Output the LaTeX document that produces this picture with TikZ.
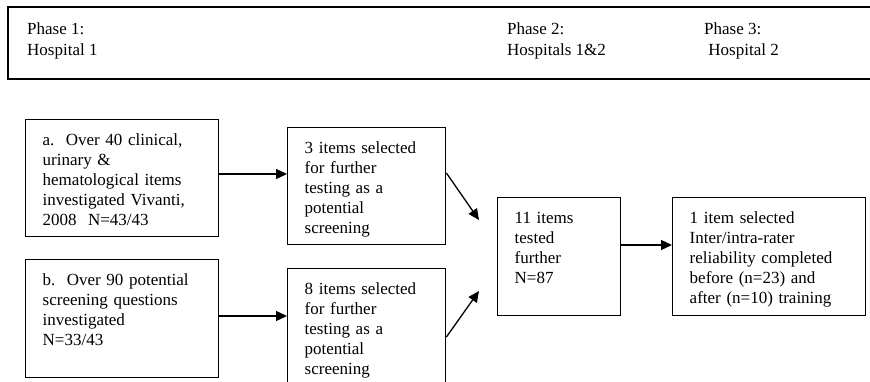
\documentclass[tikz,border=0pt]{standalone}
\usepackage{fontspec}
\setmainfont{Liberation Serif}
\usetikzlibrary{arrows.meta}
\begin{document}
\begin{tikzpicture}[x=1pt,y=-1pt,
  boxnode/.style={draw, line width=1.4pt, anchor=north west, inner xsep=17pt, inner ysep=0pt,
    align=left, font=\fontsize{17}{20}\selectfont, text height=26pt},
  phase/.style={anchor=base west, inner sep=0pt, align=left,
    font=\fontsize{17}{21}\selectfont},
  arr/.style={line width=1.3pt, -{Triangle[length=11pt,width=10pt]}}]
\useasboundingbox (0,0) rectangle (870,382);
\clip (0,0) rectangle (870,382);
% banner
\draw[line width=1.4pt] (900,7) -- (8,7) -- (8,79) -- (900,79);
\node[phase] (p1) at (27,56) {Phase 1:\\Hospital 1};
\node[phase] (p2) at (507,56) {Phase 2:\\Hospitals 1\&2};
\node[phase] (p3) at (704,56) {Phase 3:\\\ Hospital 2};
% boxes
\node[boxnode, text width=159pt, text depth=91pt] (a) at (25,119)
  {a.\ \ Over 40 clinical,\\urinary \&\\hematological items\\investigated Vivanti,\\2008\ \ N=43/43};
\node[boxnode, text width=124pt, text depth=91pt] (s3) at (287,127)
  {3 items selected\\for further\\testing as a\\potential\\screening};
\node[boxnode, text width=159pt, text depth=92pt] (b) at (25,259)
  {b.\ \ Over 90 potential\\screening questions\\investigated\\N=33/43};
\node[boxnode, text width=124pt, text depth=110pt] (s8) at (287,268)
  {8 items selected\\for further\\testing as a\\potential\\screening};
\node[boxnode, text width=89pt, text depth=92pt] (e) at (497,197)
  {11 items\\tested\\further\\N=87};
\node[boxnode, text width=159pt, text depth=92pt] (f) at (672,197)
  {1 item selected\\Inter/intra-rater\\reliability completed\\before (n=23) and\\after (n=10) training};
% connectors
\coordinate (ya) at (0,174);
\coordinate (yb) at (0,316);
\coordinate (ye) at (0,245);
\draw[arr] (a.east |- ya) -- (s3.west |- ya);
\draw[arr] (b.east |- yb) -- (s8.west |- yb);
\draw[arr] (e.east |- ye) -- (f.west |- ye);
\coordinate (t1) at (479,220);
\coordinate (t2) at (479,291);
\coordinate (y1) at (0,173);
\coordinate (y2) at (0,337);
\draw[arr] (s3.east |- y1) -- (t1);
\draw[arr] (s8.east |- y2) -- (t2);
\end{tikzpicture}
\end{document}
